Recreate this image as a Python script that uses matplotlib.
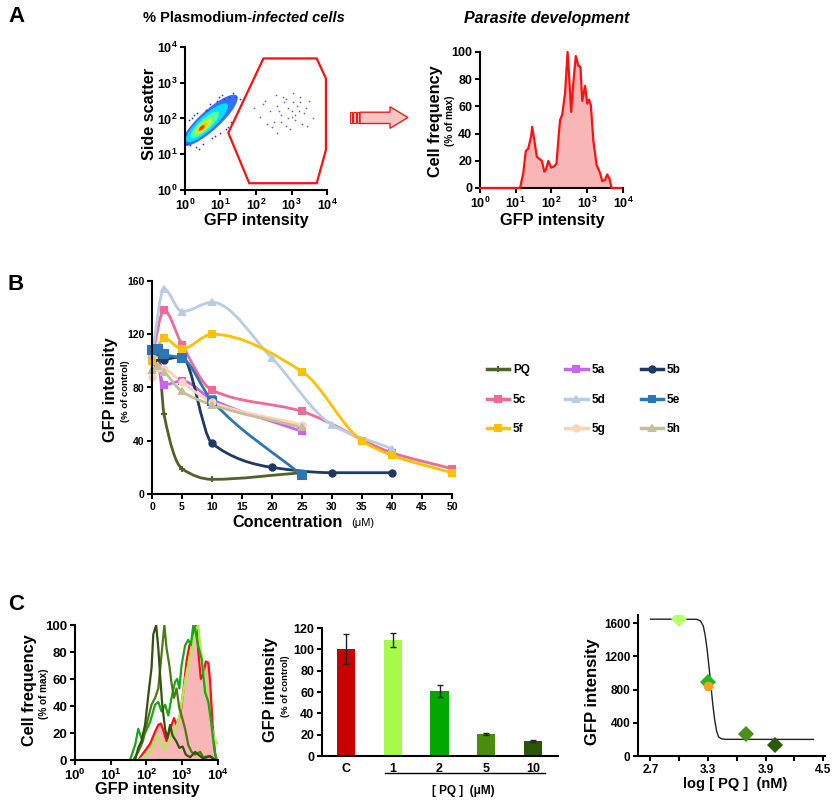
import numpy as np
import matplotlib
matplotlib.use('Agg')
import matplotlib.pyplot as plt
from matplotlib.path import Path
from matplotlib.patches import PathPatch, Ellipse, Polygon, Rectangle
from matplotlib.lines import Line2D
from matplotlib.ticker import FuncFormatter

W, H = 837, 805

# ---------------- data ----------------
# A (left): dot plot, values in log10 units
cluster_cx = [0.70, 0.62, 0.56, 0.52, 0.49, 0.47]
cluster_cy = [1.95, 1.88, 1.82, 1.78, 1.75, 1.74]
cluster_w = [2.05, 1.55, 1.05, 0.64, 0.38, 0.20]
cluster_h = [0.56, 0.43, 0.31, 0.21, 0.14, 0.08]
cluster_level = [0.2, 0.34, 0.45, 0.58, 0.70, 0.86]
edge_x = [0.05, 0.1, 0.15, 0.2, 0.3, 0.35, 0.5, 0.6, 0.75, 0.9, 1.0, 1.1, 1.2, 1.25,
          1.3, 1.35, 1.4, 1.45, 1.5, 1.55, 0.95, 1.15, 0.7, 0.4, 0.25, 1.6, 1.05, 0.85]
edge_y = [1.3, 1.95, 1.25, 2.0, 1.2, 2.15, 1.3, 2.25, 1.45, 2.5, 1.6, 2.55, 1.75, 2.6,
          1.9, 2.7, 2.0, 2.6, 2.2, 2.55, 2.6, 1.7, 2.4, 1.15, 2.1, 2.45, 2.65, 1.5]
gated_x = [1.95, 2.1, 2.25, 2.4, 2.5, 2.6, 2.7, 2.75, 2.85, 2.9, 3.0, 3.05, 3.1, 3.2, 3.25,
           3.3, 3.4, 3.5, 3.6, 2.3, 2.55, 2.8, 2.95, 3.15, 3.35, 2.45, 2.65, 2.9, 3.05, 3.25,
           2.2, 2.7, 3.0, 3.45, 2.6, 2.85, 3.1]
gated_y = [2.3, 2.05, 2.5, 2.2, 1.9, 2.35, 2.1, 2.6, 1.8, 2.3, 2.05, 2.45, 1.95, 2.2, 2.6,
           1.85, 2.3, 2.5, 2.0, 1.85, 2.65, 2.45, 1.7, 2.35, 2.15, 1.75, 2.2, 2.0, 2.7, 2.45,
           2.4, 1.9, 2.2, 1.8, 1.6, 2.55, 2.1]
gate_x = [2.21, 3.71, 3.97, 3.97, 3.71, 1.81, 1.22]
gate_y = [3.68, 3.68, 3.12, 1.12, 0.19, 0.19, 1.60]

# A (right): parasite development histogram
devel_x = [0, 1.12, 1.21, 1.28, 1.35, 1.43, 1.46, 1.52, 1.59, 1.68, 1.73, 1.80, 1.85, 1.91,
           1.99, 2.08, 2.14, 2.19, 2.24, 2.30, 2.38, 2.45, 2.50, 2.55, 2.61, 2.68, 2.75, 2.81,
           2.86, 2.94, 3.00, 3.05, 3.10, 3.17, 3.26, 3.36, 3.42, 3.50, 3.56, 3.62, 3.68, 3.95]
devel_y = [0, 0, 11, 27, 29, 38, 45, 35, 23, 21, 20, 12, 14, 20, 15, 16, 18, 35, 50, 54, 70,
           100, 79, 56, 77, 97, 90, 89, 64, 75, 62, 65, 61, 35, 17, 11, 5, 6, 10, 7, 0, 0]

# B: dose response (concentration uM, GFP % of control)
series_names = ['PQ', '5a', '5b', '5c', '5d', '5e', '5f', '5g', '5h']
series_x = {
    'PQ': [0, 1, 2, 5, 10, 25],
    '5a': [0, 1, 2, 5, 10, 25],
    '5b': [0, 2, 5, 10, 20, 30, 40],
    '5c': [0, 2, 5, 10, 25, 40, 50],
    '5d': [0, 2, 5, 10, 20, 30, 40],
    '5e': [0, 1, 2, 5, 10, 25],
    '5f': [0, 2, 5, 10, 25, 35, 40, 50],
    '5g': [0, 1, 2, 5, 10, 25],
    '5h': [0, 1, 2, 5, 10, 25],
}
series_y = {
    'PQ': [100, 106, 60, 19, 11, 16],
    '5a': [100, 95, 82, 85, 71, 47],
    '5b': [100, 101, 103, 38, 20, 16, 16],
    '5c': [103, 138, 112, 78, 62, 31, 19],
    '5d': [105, 154, 137, 144, 102, 52, 34],
    '5e': [108, 109, 105, 102, 70, 14],
    '5f': [100, 117, 109, 120, 92, 40, 29, 16],
    '5g': [88, 95, 94, 84, 69, 52],
    '5h': [93, 96, 92, 77, 67, 50],
}
series_color = {'PQ': '#4f6228', '5a': '#c466f0', '5b': '#1f3864', '5c': '#f06a98',
                '5d': '#b8cce4', '5e': '#2e75b6', '5f': '#ffc000', '5g': '#fbd4b4',
                '5h': '#c4bd97'}
series_marker = {'PQ': '+', '5a': 's', '5b': 'o', '5c': 's', '5d': '^', '5e': 's',
                 '5f': 's', '5g': 'o', '5h': '^'}

# C (left): overlaid histograms
ctrl_x = [1.77, 2.1, 2.24, 2.33, 2.4, 2.47, 2.56, 2.66, 2.77, 2.84, 2.94, 3.03, 3.12, 3.2,
          3.27, 3.33, 3.40, 3.45, 3.52, 3.59, 3.66, 3.73, 3.78, 3.85, 3.92, 3.96]
ctrl_y = [0, 12, 21, 26, 27, 22, 14, 23, 31, 26, 33, 51, 73, 85, 88, 96, 100, 80, 60, 64,
          73, 72, 58, 26, 4, 0]
pq1_x = [1.8, 1.95, 2.1, 2.2, 2.3, 2.4, 2.5, 2.6, 2.7, 2.8, 2.9, 3.0, 3.1, 3.2, 3.3, 3.4,
         3.45, 3.5, 3.6, 3.7, 3.8, 3.9, 4.0]
pq1_y = [0, 3, 6, 12, 18, 14, 8, 12, 18, 22, 30, 45, 62, 75, 88, 98, 100, 85, 65, 45, 28,
         15, 12]
pq2_x = [1.54, 1.68, 1.77, 1.86, 1.96, 2.1, 2.24, 2.33, 2.42, 2.52, 2.61, 2.7, 2.8, 2.86,
         2.92, 2.98, 3.08, 3.17, 3.24, 3.31, 3.36, 3.45, 3.54, 3.64, 3.73, 3.82, 3.89, 3.96]
pq2_y = [0, 11, 23, 16, 20, 28, 41, 43, 36, 41, 33, 46, 58, 60, 53, 70, 85, 89, 85, 100, 97,
         84, 75, 50, 43, 26, 9, 0]
pq5_x = [1.63, 1.77, 1.9, 2.0, 2.14, 2.24, 2.33, 2.42, 2.5, 2.56, 2.64, 2.7, 2.77, 2.84,
         2.92, 2.98, 3.08, 3.17, 3.26, 3.36, 3.5, 3.59, 3.75, 3.92]
pq5_y = [0, 6, 14, 26, 41, 46, 53, 78, 100, 83, 70, 57, 46, 53, 38, 33, 23, 11, 6, 4, 6, 2,
         3, 0]
pq10_x = [1.68, 1.77, 1.86, 1.96, 2.05, 2.14, 2.19, 2.27, 2.33, 2.38, 2.44, 2.52, 2.58,
          2.66, 2.73, 2.83, 2.92, 3.01, 3.1, 3.22, 3.36, 3.45, 3.59, 3.78, 3.92]
pq10_y = [0, 9, 14, 26, 48, 68, 93, 100, 83, 63, 41, 23, 16, 26, 18, 14, 9, 10, 4, 2, 6, 4,
          1, 3, 0]

# C (middle): bars
bar_labels = ['C', '1', '2', '5', '10']
bar_vals = [100, 109, 61, 21, 14]
bar_err = [14, 6.5, 6, 1, 1]
bar_colors = ['#c80000', '#a6fa4a', '#00a800', '#4a8c0c', '#2a5606']

# C (right): log dose vs GFP intensity
fit_x = [2.7, 3.18, 3.22, 3.25, 3.27, 3.29, 3.31, 3.33, 3.35, 3.37, 3.39, 3.41, 3.44, 3.48, 4.4]
fit_y = [1650, 1648, 1630, 1570, 1460, 1290, 1080, 850, 620, 430, 300, 230, 208, 201, 200]
pts_x = [3.0, 3.3, 3.3, 3.7, 4.0]
pts_y = [1650, 890, 845, 260, 130]
pts_marker = ['D', 'D', 'o', 'D', 'D']
pts_color = ['#b4ff6a', '#22b822', '#f4a020', '#4a8f1a', '#2a5a0a']

# ---------------- style ----------------
plt.rcParams.update({
    'font.family': 'Liberation Sans',
    'font.weight': 'bold',
    'axes.linewidth': 1.5,
    'mathtext.fontset': 'custom',
    'mathtext.rm': 'Liberation Sans:bold',
    'mathtext.bf': 'Liberation Sans:bold',
    'mathtext.default': 'bf',
    'xtick.major.width': 1.5, 'ytick.major.width': 1.5,
    'xtick.minor.width': 1.5, 'xtick.minor.size': 3.5,
    'xtick.major.size': 3.5, 'ytick.major.size': 3.5,
    'xtick.major.pad': 2, 'ytick.major.pad': 2,
})

fig = plt.figure(figsize=(W / 100, H / 100), dpi=100)


def fx(px):
    return px / W


def fy(py):
    return 1 - py / H


def add_axes(left, top, right, bottom):
    ax = fig.add_axes([fx(left), fy(bottom), (right - left) / W, (bottom - top) / H])
    ax.spines[['top', 'right']].set_visible(False)
    return ax


log_fmt = FuncFormatter(lambda v, pos: r'$10^{%d}$' % round(v))


def smooth_path(x, y):
    # monotone cubic through the points, drawn as bezier segments
    x = np.asarray(x, float)
    y = np.asarray(y, float)
    h = np.diff(x)
    d = np.diff(y) / h
    m = np.zeros_like(y)
    m[0], m[-1] = d[0], d[-1]
    for k in range(1, len(x) - 1):
        if d[k - 1] * d[k] > 0:
            w1 = 2 * h[k] + h[k - 1]
            w2 = h[k] + 2 * h[k - 1]
            m[k] = (w1 + w2) / (w1 / d[k - 1] + w2 / d[k])
    verts = [(x[0], y[0])]
    codes = [Path.MOVETO]
    for k in range(len(h)):
        verts += [(x[k] + h[k] / 3, y[k] + m[k] * h[k] / 3),
                  (x[k + 1] - h[k] / 3, y[k + 1] - m[k + 1] * h[k] / 3),
                  (x[k + 1], y[k + 1])]
        codes += [Path.CURVE4] * 3
    return Path(verts, codes)


def vlabel(px, py, text, size, weight='bold'):
    fig.text(fx(px), fy(py), text, rotation=90, ha='center', va='center',
             fontsize=size, fontweight=weight)


# panel letters
fig.text(fx(17), fy(17), 'A', fontsize=16, ha='center', va='center')
fig.text(fx(16), fy(285), 'B', fontsize=16, ha='center', va='center')
fig.text(fx(16), fy(605), 'C', fontsize=16, ha='center', va='center')

# ---------------- A left ----------------
ax = add_axes(185, 47, 327, 190)
jet = plt.cm.jet
for i, (cx, cy, w, h, lev) in enumerate(zip(cluster_cx, cluster_cy, cluster_w, cluster_h,
                                              cluster_level)):
    ax.add_patch(Ellipse((cx, cy), w, h, angle=42, color=jet(lev), lw=0,
                         alpha=0.8 if i == 0 else 1.0))
ax.scatter(edge_x, edge_y, s=1.5, c='#2a2aff', lw=0)
ax.scatter(gated_x, gated_y, s=1.5, c='#6464c8', lw=0)
ax.add_patch(Polygon(np.column_stack([gate_x, gate_y]), closed=True, fill=False,
                     ec='#ff1010', lw=1.6))
ax.set_xlim(0, 4)
ax.set_ylim(0, 4)
ax.set_xticks(range(5))
ax.set_yticks(range(5))
ax.xaxis.set_major_formatter(log_fmt)
ax.yaxis.set_major_formatter(log_fmt)
ax.tick_params(labelsize=9)
fig.text(fx(252), fy(18), '% Plasmodium-', ha='right', va='center', fontsize=10.5)
fig.text(fx(252), fy(18), 'infected cells', ha='left', va='center', fontsize=10.5,
         style='italic')
vlabel(150, 114, 'Side scatter', 11.7)
fig.text(fx(256), fy(221), 'GFP intensity', ha='center', va='center', fontsize=11.7)

# arrow between the two A panels
arrow = [(360, 112.2), (390, 112.2), (390, 106.7), (408, 117.5), (390, 128.3),
         (390, 123.5), (360, 123.5)]
fig.add_artist(Polygon([(fx(a), fy(b)) for a, b in arrow], closed=True,
                       transform=fig.transFigure, fc='#f9c4c4', ec='#e8201a', lw=1.0))
for x0 in [350, 353.4, 356.8]:
    fig.add_artist(Rectangle((fx(x0), fy(123.5)), 2.3 / W, 11.3 / H,
                             transform=fig.transFigure, fc='#f9c4c4', ec='#e8201a', lw=0.8))

# ---------------- A right ----------------
ax = add_axes(480, 52, 623, 188)
ax.fill_between(devel_x, devel_y, color='#f9b6b6', lw=0)
ax.plot(devel_x, devel_y, color='#ff1010', lw=1.6, clip_on=False, zorder=3)
ax.set_xlim(0, 4)
ax.set_ylim(0, 100)
ax.set_xticks(range(5))
ax.set_yticks(range(0, 101, 20))
ax.xaxis.set_major_formatter(log_fmt)
ax.tick_params(labelsize=9)
fig.text(fx(547), fy(18), 'Parasite development', ha='center', va='center', fontsize=11.5,
         style='italic')
vlabel(436, 121, 'Cell frequency', 11.7)
vlabel(450, 121, '(% of max)', 7.2)
fig.text(fx(552), fy(220), 'GFP intensity', ha='center', va='center', fontsize=11.7)

# ---------------- B ----------------
ax = add_axes(152, 281, 452, 494)
handles = {}
for name in series_names:
    c = series_color[name]
    ax.add_patch(PathPatch(smooth_path(series_x[name], series_y[name]), fill=False,
                           ec=c, lw=2.0, clip_on=False, capstyle='round'))
    ms = 6 if name == '5e' else 4.5
    ax.plot(series_x[name], series_y[name], ls='none', marker=series_marker[name],
            color=c, ms=ms, mew=1.5, clip_on=False)
    handles[name] = Line2D([], [], color=c, lw=2.5, marker=series_marker[name], ms=4.5,
                           mew=1.5)
ax.set_xlim(0, 50)
ax.set_ylim(0, 160)
ax.set_xticks(range(0, 51, 5))
ax.set_yticks(range(0, 161, 40))
ax.tick_params(labelsize=7.5)
vlabel(110, 390, 'GFP intensity', 11.7)
vlabel(125, 391, '(% of control)', 6.8)
fig.text(fx(343), fy(522), 'Concentration', ha='right', va='center', fontsize=11.7)
fig.text(fx(351), fy(523), '(\u03bcM)', ha='left', va='center', fontsize=8,
         fontweight='normal')
order = ['PQ', '5c', '5f', '5a', '5d', '5g', '5b', '5e', '5h']
fig.legend([handles[n] for n in order], order, loc='upper left',
           bbox_to_anchor=(fx(487), fy(364)), ncol=3, frameon=False, fontsize=8.5,
           handlelength=1.9, handletextpad=0.3, columnspacing=3.0, labelspacing=1.5,
           borderpad=0, borderaxespad=0)

# ---------------- C left ----------------
ax = add_axes(75, 625, 218, 760)
ax.fill_between(ctrl_x, ctrl_y, color='#f9b6b6', lw=0)
ax.plot(ctrl_x, ctrl_y, color='#ff1010', lw=1.6)
for xs, ys, c in [(pq1_x, pq1_y, '#a8f050'), (pq2_x, pq2_y, '#19a619'),
                  (pq5_x, pq5_y, '#4d7a12'), (pq10_x, pq10_y, '#33520f')]:
    ax.plot(xs, ys, color=c, lw=1.6)
ax.set_xlim(0, 4)
ax.set_ylim(0, 100)
ax.set_xticks(range(5))
ax.set_yticks(range(0, 101, 20))
ax.xaxis.set_major_formatter(log_fmt)
ax.tick_params(labelsize=9.5)
vlabel(30, 690, 'Cell frequency', 11.7)
vlabel(44, 694, '(% of max)', 7.2)
fig.text(fx(147), fy(789), 'GFP intensity', ha='center', va='center', fontsize=11.7)

# ---------------- C middle ----------------
ax = add_axes(322, 628, 558, 756)
pos = np.arange(len(bar_vals))
ax.bar(pos, bar_vals, width=0.39, color=bar_colors, yerr=bar_err,
       error_kw=dict(ecolor='#222222', elinewidth=1, capsize=2.5, capthick=1))
ax.set_xlim(-0.51, 4.53)
ax.set_ylim(0, 120)
ax.set_xticks(pos)
ax.set_xticklabels(bar_labels)
ax.set_yticks(range(0, 121, 20))
ax.tick_params(axis='x', length=0, labelsize=9, pad=5)
ax.tick_params(axis='y', labelsize=9)
vlabel(271, 690, 'GFP intensity', 11.7)
vlabel(286, 686, '(% of control)', 6.8)
fig.add_artist(Line2D([fx(385), fx(545)], [fy(773), fy(773)], transform=fig.transFigure,
                      color='black', lw=1))
fig.text(fx(463), fy(791), '[ PQ ]  (\u03bcM)', ha='center', va='center', fontsize=8.5)

# ---------------- C right ----------------
ax = add_axes(638, 615, 825, 756)
ax.plot(fit_x, fit_y, color='#222222', lw=1)
for x, y, mk, c in zip(pts_x, pts_y, pts_marker, pts_color):
    ax.plot([x], [y], ls='none', marker=mk, color=c, ms=8.5 if mk == 'D' else 7, mew=0)
ax.set_xlim(2.57, 4.52)
ax.set_ylim(0, 1700)
ax.set_xticks([2.7, 3.3, 3.9, 4.5])
ax.set_xticks([3.0, 3.6, 4.2], minor=True)
ax.set_yticks(range(0, 1601, 400))
ax.tick_params(labelsize=8.5)
vlabel(592, 692, 'GFP intensity', 12)
fig.text(fx(735), fy(784), 'log [ PQ ]  (nM)', ha='center', va='center', fontsize=10.5)

fig.savefig('out.png', dpi=100)
